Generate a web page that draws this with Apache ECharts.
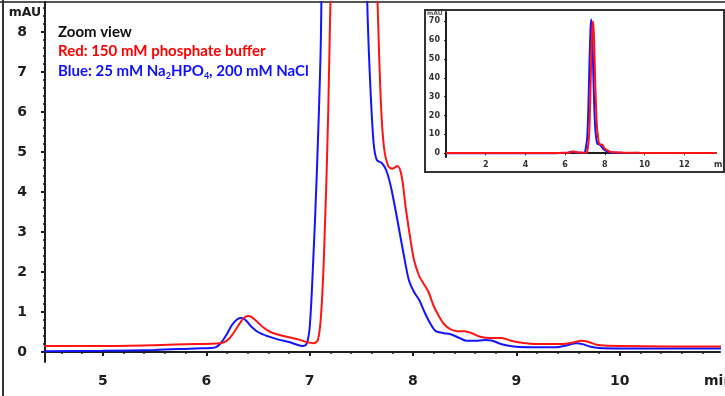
<!DOCTYPE html>
<html><head><meta charset="utf-8">
<script src="https://cdn.jsdelivr.net/npm/echarts@6/dist/echarts.min.js"></script>
<style>html,body{margin:0;padding:0;background:#fff}#c{width:725px;height:396px}</style>
</head><body><div id="c"></div>
<script>
// ---- data (retention time in min, absorbance in mAU) ----
const blueT = [0, 2, 3.5, 4.44, 5.0, 5.5, 5.9, 6.05, 6.1, 6.15, 6.2, 6.25, 6.3, 6.34, 6.38, 6.43, 6.5, 6.6, 6.7, 6.8, 6.88, 6.93, 6.97, 7.0, 7.03, 7.07, 7.11, 7.16, 7.22, 7.28, 7.32, 7.37, 7.42, 7.47, 7.52, 7.56, 7.59, 7.62, 7.65, 7.7, 7.74, 7.78, 7.82, 7.87, 7.92, 7.96, 8.01, 8.06, 8.12, 8.17, 8.22, 8.3, 8.36, 8.45, 8.52, 8.6, 8.7, 8.76, 8.83, 8.9, 9.0, 9.15, 9.38, 9.48, 9.58, 9.65, 9.72, 9.8, 10.0, 10.5, 11.0, 12.0, 13.6];
const blueV = [0.02, 0.02, 0.03, 0.02, 0.03, 0.05, 0.09, 0.1, 0.13, 0.25, 0.45, 0.68, 0.82, 0.85, 0.8, 0.65, 0.5, 0.39, 0.31, 0.25, 0.18, 0.15, 0.2, 0.6, 2, 4.5, 8, 20, 45, 66, 71, 62, 42, 24, 13, 8.5, 6.5, 5.2, 4.8, 4.72, 4.55, 4.2, 3.7, 3.0, 2.3, 1.8, 1.5, 1.3, 0.95, 0.7, 0.52, 0.47, 0.45, 0.35, 0.28, 0.28, 0.3, 0.29, 0.22, 0.17, 0.13, 0.12, 0.12, 0.16, 0.22, 0.19, 0.13, 0.1, 0.09, 0.09, 0.09, 0.08, 0.08];
const redT = [0, 2, 4.44, 5.0, 5.5, 5.9, 6.1, 6.17, 6.22, 6.27, 6.32, 6.36, 6.4, 6.44, 6.5, 6.55, 6.62, 6.7, 6.8, 6.9, 6.98, 7.04, 7.08, 7.11, 7.14, 7.18, 7.22, 7.27, 7.32, 7.37, 7.41, 7.46, 7.51, 7.56, 7.61, 7.66, 7.69, 7.72, 7.76, 7.8, 7.85, 7.89, 7.93, 7.97, 8.01, 8.06, 8.1, 8.15, 8.2, 8.25, 8.3, 8.36, 8.43, 8.5, 8.57, 8.65, 8.75, 8.86, 8.95, 9.05, 9.2, 9.45, 9.55, 9.63, 9.7, 9.78, 9.85, 10.0, 10.5, 11.0, 12.0, 13.6];
const redV = [0.15, 0.15, 0.15, 0.15, 0.17, 0.2, 0.21, 0.24, 0.33, 0.5, 0.7, 0.84, 0.9, 0.87, 0.74, 0.62, 0.5, 0.43, 0.37, 0.31, 0.24, 0.22, 0.3, 0.9, 2.5, 6, 12, 30, 52, 67, 70, 60, 40, 24, 13, 8.5, 6.2, 5.1, 4.65, 4.58, 4.65, 4.4, 3.6, 2.9, 2.3, 1.9, 1.72, 1.5, 1.15, 0.9, 0.7, 0.57, 0.52, 0.52, 0.47, 0.38, 0.35, 0.35, 0.28, 0.23, 0.2, 0.2, 0.24, 0.28, 0.25, 0.18, 0.16, 0.15, 0.14, 0.14, 0.14, 0.14];

const mainXTicks = [5, 6, 7, 8, 9, 10];
const mainYTicks = [0, 1, 2, 3, 4, 5, 6, 7, 8];
const insetXTicks = [2, 4, 6, 8, 10, 12];
const insetYTicks = [0, 10, 20, 30, 40, 50, 60, 70];
const titleText = 'Zoom view';
const redLabel = 'Red: 150 mM phosphate buffer';
const blueLabelParts = ['Blue: 25 mM Na', '2', 'HPO', '4', ', 200 mM NaCl'];

// minor tick positions (every 0.2 units)
function minorSteps(a, b, step) {
  const out = [];
  for (let k = Math.ceil(a / step - 1e-9); k * step <= b + 1e-9; k++) {
    const v = Math.round(k * step * 1000) / 1000;
    if (Math.abs(v - Math.round(v)) > 1e-6) out.push(v);
  }
  return out;
}
const X_MIN = 4.44, X_MAX = 10.97, Y_MIN = -0.25, Y_MAX = 8.75;
const minorX = minorSteps(X_MIN, X_MAX, 0.2);
const minorY = minorSteps(0, Y_MAX, 0.2);

const RED = '#ff1414', BLUE = '#1414ff';
const AX = '#1e1e1e';
const pair = (T, V) => T.map((t, i) => [t, V[i]]);

const chart = echarts.init(document.getElementById('c'), null, {renderer: 'canvas'});
const labelFont = {fontFamily: 'DejaVu Sans', fontWeight: 'bold', color: AX};
const lineCommon = {type: 'line', showSymbol: false, symbol: 'none', smooth: 0.3, clip: true};

chart.setOption({
  animation: false,
  backgroundColor: '#fff',
  grid: [
    {left: 45, top: 2, right: 5, bottom: 34},
    {left: 446, top: 12, width: 270, height: 145}
  ],
  xAxis: [
    {gridIndex: 0, type: 'value', position: 'bottom', min: X_MIN, max: X_MAX,
     axisLine: {lineStyle: {color: AX, width: 2}},
     axisTick: {customValues: mainXTicks, length: 4, lineStyle: {color: AX, width: 2}},
     axisLabel: Object.assign({customValues: mainXTicks, fontSize: 14, margin: 12}, labelFont),
     splitLine: {show: false}},
    {gridIndex: 0, type: 'value', position: 'bottom', min: X_MIN, max: X_MAX,
     axisLine: {show: false},
     axisTick: {customValues: minorX, length: 2, lineStyle: {color: AX, width: 1.5}},
     axisLabel: {show: false}, splitLine: {show: false}},
    {gridIndex: 1, type: 'value', position: 'bottom', min: 0, max: 13.6,
     axisLine: {lineStyle: {color: AX, width: 2}},
     axisTick: {customValues: insetXTicks, length: 2, lineStyle: {color: AX}},
     axisLabel: Object.assign({customValues: insetXTicks, fontSize: 8, margin: 4}, labelFont, {color: '#333'}),
     splitLine: {show: false}}
  ],
  yAxis: [
    {gridIndex: 0, type: 'value', position: 'left', min: Y_MIN, max: Y_MAX,
     axisLine: {lineStyle: {color: AX, width: 2}},
     axisTick: {customValues: mainYTicks, length: 4, lineStyle: {color: AX, width: 2}},
     axisLabel: Object.assign({customValues: mainYTicks, fontSize: 14, margin: 18}, labelFont),
     splitLine: {show: false}},
    {gridIndex: 0, type: 'value', position: 'left', min: Y_MIN, max: Y_MAX,
     axisLine: {show: false},
     axisTick: {customValues: minorY, length: 2, lineStyle: {color: AX, width: 1.5}},
     axisLabel: {show: false}, splitLine: {show: false}},
    {gridIndex: 1, type: 'value', position: 'left', min: -2, max: 75,
     axisLine: {lineStyle: {color: AX, width: 2}},
     axisTick: {customValues: insetYTicks, length: 2, lineStyle: {color: AX}},
     axisLabel: Object.assign({customValues: insetYTicks, fontSize: 8, margin: 6}, labelFont, {color: '#333'}),
     splitLine: {show: false}}
  ],
  series: [
    Object.assign({}, lineCommon, {xAxisIndex: 0, yAxisIndex: 0, data: pair(blueT, blueV), lineStyle: {color: BLUE, width: 2}, z: 3}),
    Object.assign({}, lineCommon, {xAxisIndex: 0, yAxisIndex: 0, data: pair(redT, redV), lineStyle: {color: RED, width: 2}, z: 4}),
    Object.assign({}, lineCommon, {xAxisIndex: 2, yAxisIndex: 2, data: pair(blueT, blueV), lineStyle: {color: BLUE, width: 2}, z: 3}),
    Object.assign({}, lineCommon, {xAxisIndex: 2, yAxisIndex: 2, data: pair(redT, redV), lineStyle: {color: RED, width: 2}, z: 4})
  ],
  graphic: [
    {type: 'line', shape: {x1: 0, y1: 2, x2: 725, y2: 2}, style: {stroke: '#555', lineWidth: 2}},
    {type: 'line', shape: {x1: 3, y1: 0, x2: 3, y2: 396}, style: {stroke: '#333', lineWidth: 2}},
    {type: 'rect', shape: {x: 425, y: 10, width: 299, height: 162}, style: {fill: 'none', stroke: '#333', lineWidth: 2}},
    {type: 'text', x: 25, y: 13, style: {text: 'mAU', font: 'bold 12.5px "DejaVu Sans"', fill: AX, align: 'center', verticalAlign: 'middle', textAlign: 'center', textVerticalAlign: 'middle'}},
    {type: 'text', x: 704, y: 381, style: {text: 'min', font: 'bold 14px "DejaVu Sans"', fill: AX, align: 'left', verticalAlign: 'middle', textAlign: 'left', textVerticalAlign: 'middle'}},
    {type: 'text', x: 427, y: 13, style: {text: 'mAU', font: 'bold 6px "DejaVu Sans"', fill: '#555', align: 'left', verticalAlign: 'middle', textAlign: 'left', textVerticalAlign: 'middle'}},
    {type: 'text', x: 714, y: 165, style: {text: 'min', font: 'bold 8px "DejaVu Sans"', fill: '#333', align: 'left', verticalAlign: 'middle', textAlign: 'left', textVerticalAlign: 'middle'}},
    {type: 'text', x: 58, y: 32, style: {text: titleText, font: 'bold 15px Lato', fill: '#111', align: 'left', verticalAlign: 'middle', textAlign: 'left', textVerticalAlign: 'middle'}},
    {type: 'text', x: 58, y: 51, style: {text: redLabel, font: 'bold 15px Lato', fill: '#ff0000', align: 'left', verticalAlign: 'middle', textAlign: 'left', textVerticalAlign: 'middle'}},
    {type: 'text', x: 58, y: 71, style: {
      text: '{n|' + blueLabelParts[0] + '}{s|' + blueLabelParts[1] + '}{n|' + blueLabelParts[2] + '}{s|' + blueLabelParts[3] + '}{n|' + blueLabelParts[4] + '}',
      align: 'left', verticalAlign: 'middle', textAlign: 'left', textVerticalAlign: 'middle',
      fill: '#1010ff',
      rich: {
        n: {font: 'bold 15px Lato', fontFamily: 'Lato', fontWeight: 'bold', fontSize: 15, lineHeight: 20, verticalAlign: 'middle', fill: '#1010ff', color: '#1010ff'},
        s: {font: 'bold 9px Lato', fontFamily: 'Lato', fontWeight: 'bold', fontSize: 9, lineHeight: 10, verticalAlign: 'bottom', fill: '#1010ff', color: '#1010ff'}
      }
    }}
  ]
});
</script></body></html>
